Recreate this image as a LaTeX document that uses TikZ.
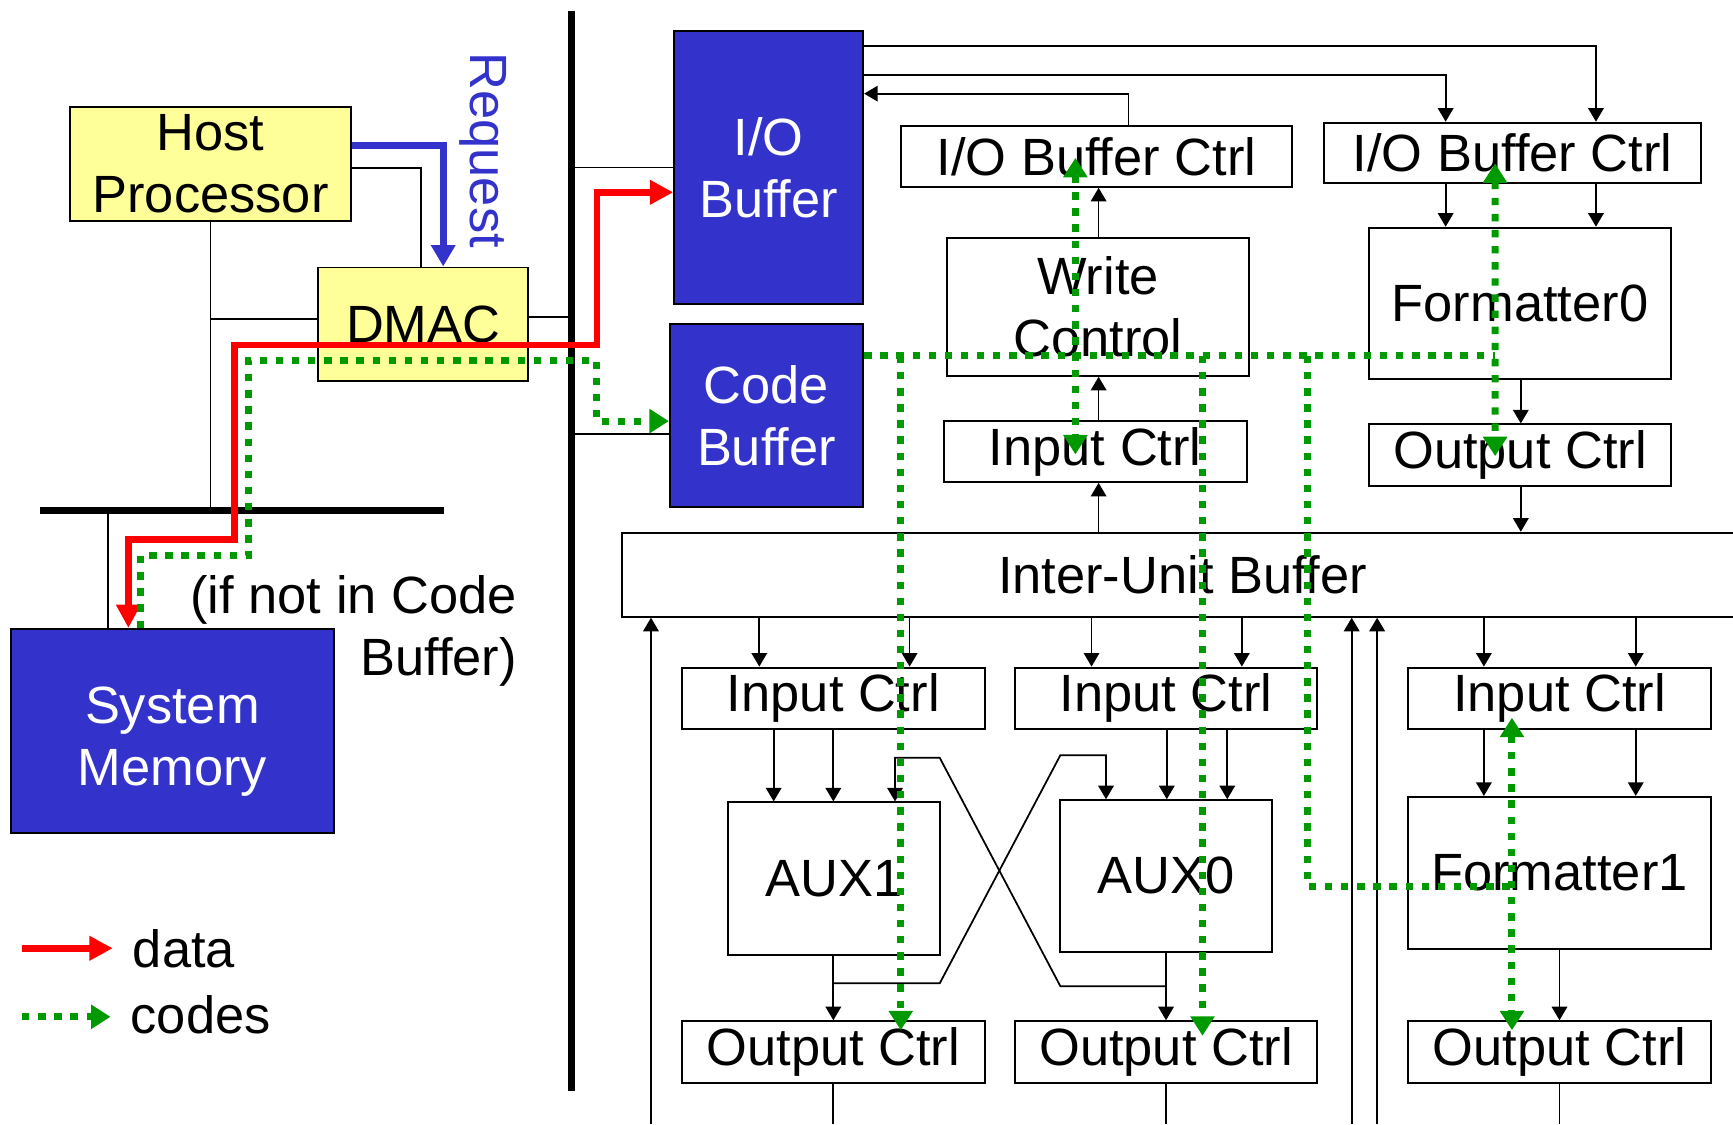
\documentclass[tikz,border=0pt]{standalone}
\usepackage{fontspec}
\setmainfont{Liberation Sans}
\usetikzlibrary{arrows.meta,calc}
\definecolor{hostyellow}{HTML}{FFFF99}
\definecolor{memblue}{HTML}{3333CC}
\definecolor{datared}{HTML}{FF0000}
\definecolor{codegreen}{HTML}{009900}
\tikzset{
  ctlbox/.style={draw, line width=1pt, inner sep=0pt, align=center},
  bluebox/.style={ctlbox, fill=memblue, text=white},
  yellowbox/.style={ctlbox, fill=hostyellow},
  wire/.style={line width=0.9pt},
  sigline/.style={wire, -{Triangle[width=8pt,length=7pt]}},
  busline/.style={line width=3.8pt},
  reqline/.style={memblue, line width=3.6pt, -{Triangle[width=12pt,length=11pt]}},
  datapath/.style={datared, line width=3.4pt},
  datatip/.style={-{Triangle[width=12pt,length=12pt]}},
  databoth/.style={{Triangle[width=12pt,length=12pt]}-{Triangle[width=12pt,length=12pt]}},
  codepath/.style={codegreen, line width=3.6pt, dash pattern=on 3.8pt off 4.5pt},
  codetip/.style={-{Triangle[width=12pt,length=10pt]}},
  codeboth/.style={{Triangle[width=12pt,length=10pt]}-{Triangle[width=12pt,length=10pt]}},
}

\begin{document}
\begin{tikzpicture}[x=0.02cm, y=-0.02cm, font=\fontsize{27pt}{32pt}\selectfont]
\useasboundingbox (0,0) rectangle (1568,1017);
\coordinate (vbusT) at (517,10);
\coordinate (vbusB) at (517,987);
\coordinate (hbusL) at (36,462);
\coordinate (hbusR) at (402,462);
\coordinate (bottom) at (0,1017);

\node[yellowbox, minimum width=5.10cm, minimum height=2.06cm] (host) at (190.5,148.5) {Host\\Processor};
\node[yellowbox, minimum width=3.80cm, minimum height=2.06cm] (dmac) at (383,293.5) {DMAC};
\node[bluebox, minimum width=5.84cm, minimum height=3.70cm] (sysmem) at (156,661.5) {\rule{0pt}{4pt}\\[-6pt]System\\Memory};
\node[bluebox, minimum width=3.42cm, minimum height=4.94cm] (iobuf) at (695.5,151.5) {I/O\\Buffer};
\node[bluebox, minimum width=3.50cm, minimum height=3.32cm] (codebuf) at (693.5,376) {Code\\Buffer};
\node[text=memblue, rotate=-90] (reqlabel) at (437,136) {Request};
\node[align=right, anchor=east, inner sep=0pt] (note) at (468,571) {(if not in Code\\Buffer)};

\node[ctlbox, minimum width=7.08cm, minimum height=1.10cm] (iobctl1) at (992,141.5) {I/O Buffer Ctrl};
\node[ctlbox, minimum width=6.82cm, minimum height=1.10cm] (iobctl2) at (1368.5,138.5) {I/O Buffer Ctrl};
\node[ctlbox, minimum width=5.46cm, minimum height=2.50cm] (wrctl) at (993.5,277.5) {Write\\Control};
\node[ctlbox, minimum width=5.48cm, minimum height=1.10cm] (inctl0) at (991,408.5) {Input Ctrl};
\node[ctlbox, minimum width=5.47cm, minimum height=2.74cm] (fmt0) at (1375.25,274.5) {Formatter0};
\node[ctlbox, minimum width=5.47cm, minimum height=1.12cm] (outctl0) at (1375.25,412) {Output Ctrl};
\node[ctlbox, minimum width=20.28cm, minimum height=1.52cm] (iub) at (1070,520) {Inter-Unit Buffer};
\foreach \n/\x in {1/754, 2/1055, 3/1411} {
  \node[ctlbox, minimum width=5.48cm, minimum height=1.11cm] (inctl\n) at (\x,631.75) {Input Ctrl};
  \node[ctlbox, minimum width=5.48cm, minimum height=1.11cm] (outctl\n) at (\x,951.75) {Output Ctrl};
}
\node[ctlbox, minimum width=3.83cm, minimum height=2.76cm] (aux1) at (754.5,795) {AUX1};
\node[ctlbox, minimum width=3.83cm, minimum height=2.74cm] (aux0) at (1055.2,792.5) {AUX0};
\node[ctlbox, minimum width=5.48cm, minimum height=2.75cm] (fmt1) at (1411,789.75) {Formatter1};

\draw[busline] (vbusT) -- (vbusB);
\draw[busline] (hbusL) -- (hbusR);

\draw[wire] (host.south) -- (host.south |- hbusL);
\draw[wire] ($(dmac.west)+(0,-5)$) coordinate (dm) -- (dm -| host.south);
\draw[wire] ($(host.east)+(0,3.5)$) -| ($(dmac.north)+(-2,0)$);
\draw[reqline] ($(host.east)+(0,-16.5)$) -| ($(dmac.north)+(18,0)$);
\draw[wire] ($(dmac.east)+(0,-7)$) coordinate (de) -- (de -| vbusT);
\draw[wire] (iobuf.west) -- (iobuf.west -| vbusT);
\draw[wire] ($(codebuf.west)+(0,17)$) coordinate (cw) -- (cw -| vbusT);
\coordinate (memtap) at (98,462);
\draw[wire] (memtap) -- (memtap |- sysmem.north);

\draw[sigline] ($(iobuf.north east)+(0,14.6)$) -| (iobctl2.north -| 1444,0);
\draw[sigline] ($(iobuf.north east)+(0,41)$) -| (iobctl2.north -| 1308,0);
\draw[sigline] (iobctl1.north -| 1021,0) |- ($(iobuf.north east)+(0,57.6)$);
\foreach \x in {1308,1444}
  \draw[sigline] (iobctl2.south -| \x,0) -- (fmt0.north -| \x,0);
\draw[sigline] (wrctl.north -| 994,0) -- (iobctl1.south -| 994,0);
\draw[sigline] (inctl0.north -| 994,0) -- (wrctl.south -| 994,0);
\draw[sigline] (iub.north -| 994,0) -- (inctl0.south -| 994,0);
\draw[sigline] (fmt0.south -| 1376,0) -- (outctl0.north -| 1376,0);
\draw[sigline] (outctl0.south -| 1376,0) -- (iub.north -| 1376,0);

\foreach \x/\n in {687/1, 823/1, 987.6/2, 1123.6/2, 1342.6/3, 1480/3}
  \draw[sigline] (iub.south -| \x,0) -- (inctl\n.north -| \x,0);
\foreach \x/\a/\b in {700/inctl1/aux1, 754/inctl1/aux1, 1055.7/inctl2/aux0, 1110.4/inctl2/aux0, 1342.6/inctl3/fmt1, 1480/inctl3/fmt1, 754/aux1/outctl1, 1055/aux0/outctl2, 1411/fmt1/outctl3}
  \draw[sigline] (\a.south -| \x,0) -- (\b.north -| \x,0);
\foreach \n in {1,2,3}
  \draw[wire] (outctl\n.south) -- (outctl\n.south |- bottom);
\foreach \x in {589,1223,1246}
  \draw[sigline] (bottom -| \x,0) -- (iub.south -| \x,0);

\coordinate (x1) at (754,889.6);
\coordinate (x0) at (1055,892.3);
\draw[sigline] (x1) -- (850.3,889.6) -- (959.4,683.3) -| (aux0.north -| 1000.7,0);
\draw[sigline] (x0) -- (959.4,892.3) -- (850.3,685.7) -| (aux1.north -| 809.8,0);

\draw[datapath, databoth] ($(sysmem.north west)+(107,0)$) |- (212,488) |- (540,312) |- ($(iobuf.west)+(0,22.5)$);
\draw[codepath, codetip] ($(sysmem.north west)+(118,0)$) |- (225,503) |- (540,326) |- ($(codebuf.west)+(0,5)$);

\draw[codepath] ($(codebuf.east)+(0,-54)$) coordinate (ce) -- (ce -| 1352.7,0);
\draw[codepath, codetip] (ce -| 815,0) -- ($(outctl1.north)+(61,9)$);
\draw[codepath, codetip] (ce -| 1088,0) -- ($(outctl2.north)+(33,14)$);
\draw[codepath] (ce -| 1183,0) |- (1368,802);
\draw[codepath, codeboth] ($(inctl3.south)+(-43,-11)$) -- ($(outctl3.north)+(-43,9)$);
\draw[codepath, codeboth] ($(iobctl2.south)+(-15.8,-19)$) -- ($(outctl0.north)+(-22.5,29.6)$);
\draw[codepath, codeboth] ($(iobctl1.south)+(-19,-27)$) -- ($(inctl0.north)+(-18,31)$);

\coordinate (legdata0) at (20,858);
\node[anchor=west] (legdata) at (114,858) {data};
\draw[datapath, datatip] (legdata0) -- ($(legdata.west)+(-12,0)$);
\coordinate (legcode0) at (20,920);
\node[anchor=west] (legcode) at (112,918) {codes};
\draw[codepath, codetip] (legcode0) -- ($(legcode.west |- legcode0)+(-12,0)$);
\end{tikzpicture}
\end{document}
